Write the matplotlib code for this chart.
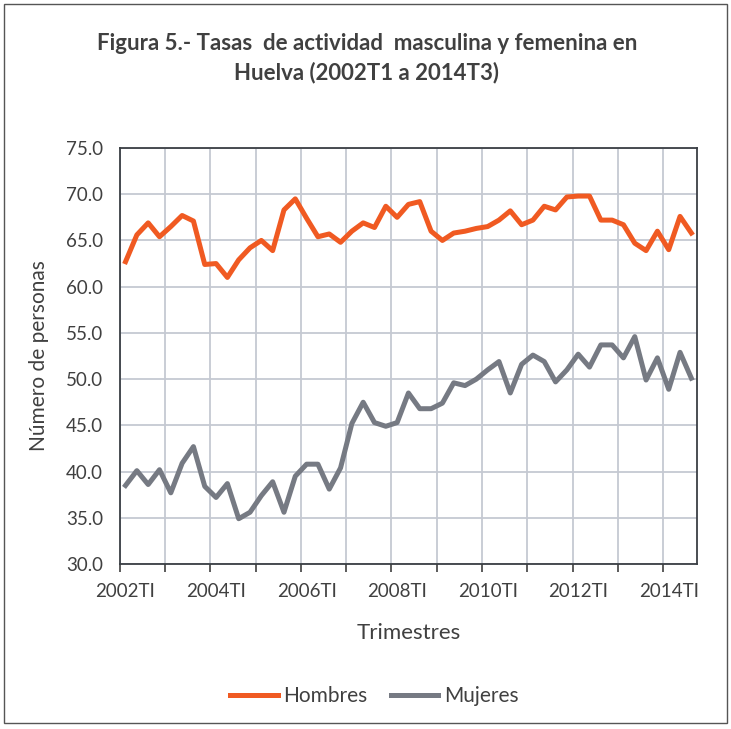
import matplotlib.pyplot as plt
from matplotlib.patches import Rectangle

plt.rcParams['font.family'] = ['Lato', 'DejaVu Sans']

# 2002T1 ... 2014T3 (51 trimestres)
years = list(range(2002, 2015))
tick_labels = ["%dTI" % y for y in years[::2]]

hombres = [62.7, 65.6, 66.9, 65.4, 66.5, 67.7, 67.1, 62.4, 62.5, 61.0,
           62.9, 64.2, 65.0, 63.9, 68.3, 69.5, 67.4, 65.4, 65.7, 64.8,
           66.0, 66.9, 66.4, 68.7, 67.5, 68.9, 69.2, 66.0, 65.0, 65.8,
           66.0, 66.3, 66.5, 67.2, 68.2, 66.7, 67.2, 68.7, 68.3, 69.7,
           69.8, 69.8, 67.2, 67.2, 66.7, 64.7, 63.9, 66.0, 64.0, 67.6,
           65.8]

mujeres = [38.5, 40.1, 38.6, 40.2, 37.7, 40.9, 42.7, 38.4, 37.2, 38.7,
           34.9, 35.6, 37.4, 38.9, 35.6, 39.5, 40.8, 40.8, 38.1, 40.4,
           45.2, 47.5, 45.3, 44.9, 45.3, 48.5, 46.8, 46.8, 47.4, 49.6,
           49.3, 50.0, 51.0, 51.9, 48.5, 51.6, 52.6, 51.9, 49.7, 51.0,
           52.7, 51.3, 53.7, 53.7, 52.3, 54.6, 49.9, 52.3, 48.9, 52.9,
           50.1]

text_col = "#404040"
x = list(range(len(hombres)))

fig = plt.figure(figsize=(7.31, 7.29), dpi=100)
ax = fig.add_axes([0.164, 0.2263, 0.7895, 0.5707])

ax.plot(x, hombres, color="#F05A22", lw=3.6, label="Hombres", solid_joinstyle="round")
ax.plot(x, mujeres, color="#767A83", lw=3.6, label="Mujeres", solid_joinstyle="round")

ax.set_xlim(-0.5, len(x) - 0.5)
ax.set_ylim(30, 75)
ax.set_yticks(range(30, 80, 5))
ax.set_yticklabels(["%.1f" % v for v in range(30, 80, 5)])

# tick marks between categories every 4 quarters, labels every 8
ax.set_xticks([-0.5 + 4 * k for k in range(13)])
ax.set_xticklabels([])
ax.set_xticks(list(range(0, len(x), 8)), minor=True)
ax.set_xticklabels(tick_labels, minor=True)
ax.tick_params(axis="x", which="major", direction="out", length=6, width=1.2, color=text_col)
ax.tick_params(axis="x", which="minor", length=0, pad=14, labelsize=13.5, labelcolor=text_col)
ax.tick_params(axis="y", length=0, pad=12, labelsize=13.5, labelcolor=text_col)

ax.grid(True, which="major", color="#C5C9D2", lw=1.3)
ax.set_axisbelow(True)
for s in ax.spines.values():
    s.set_color("#3A3F44")
    s.set_linewidth(1.3)

ax.set_xlabel("Trimestres", fontsize=16, color=text_col, labelpad=16)
ax.set_ylabel("Número de personas", fontsize=15, color=text_col, labelpad=12)

fig.text(0.502, 0.92, "Figura 5.- Tasas  de actividad  masculina y femenina en\nHuelva (2002T1 a 2014T3)",
         ha="center", va="center", fontsize=16, fontweight="bold", color=text_col, linespacing=1.45)

fig.legend(loc="center", bbox_to_anchor=(0.512, 0.045), ncol=2, frameon=False,
           fontsize=15, labelcolor=text_col, handlelength=2.3, handletextpad=0.25,
           columnspacing=1.1)

fig.patches.append(Rectangle((0.006, 0.008), 0.988, 0.986, transform=fig.transFigure,
                             fill=False, edgecolor="#555555", lw=1.0))

fig.savefig("out.png", dpi=100)
